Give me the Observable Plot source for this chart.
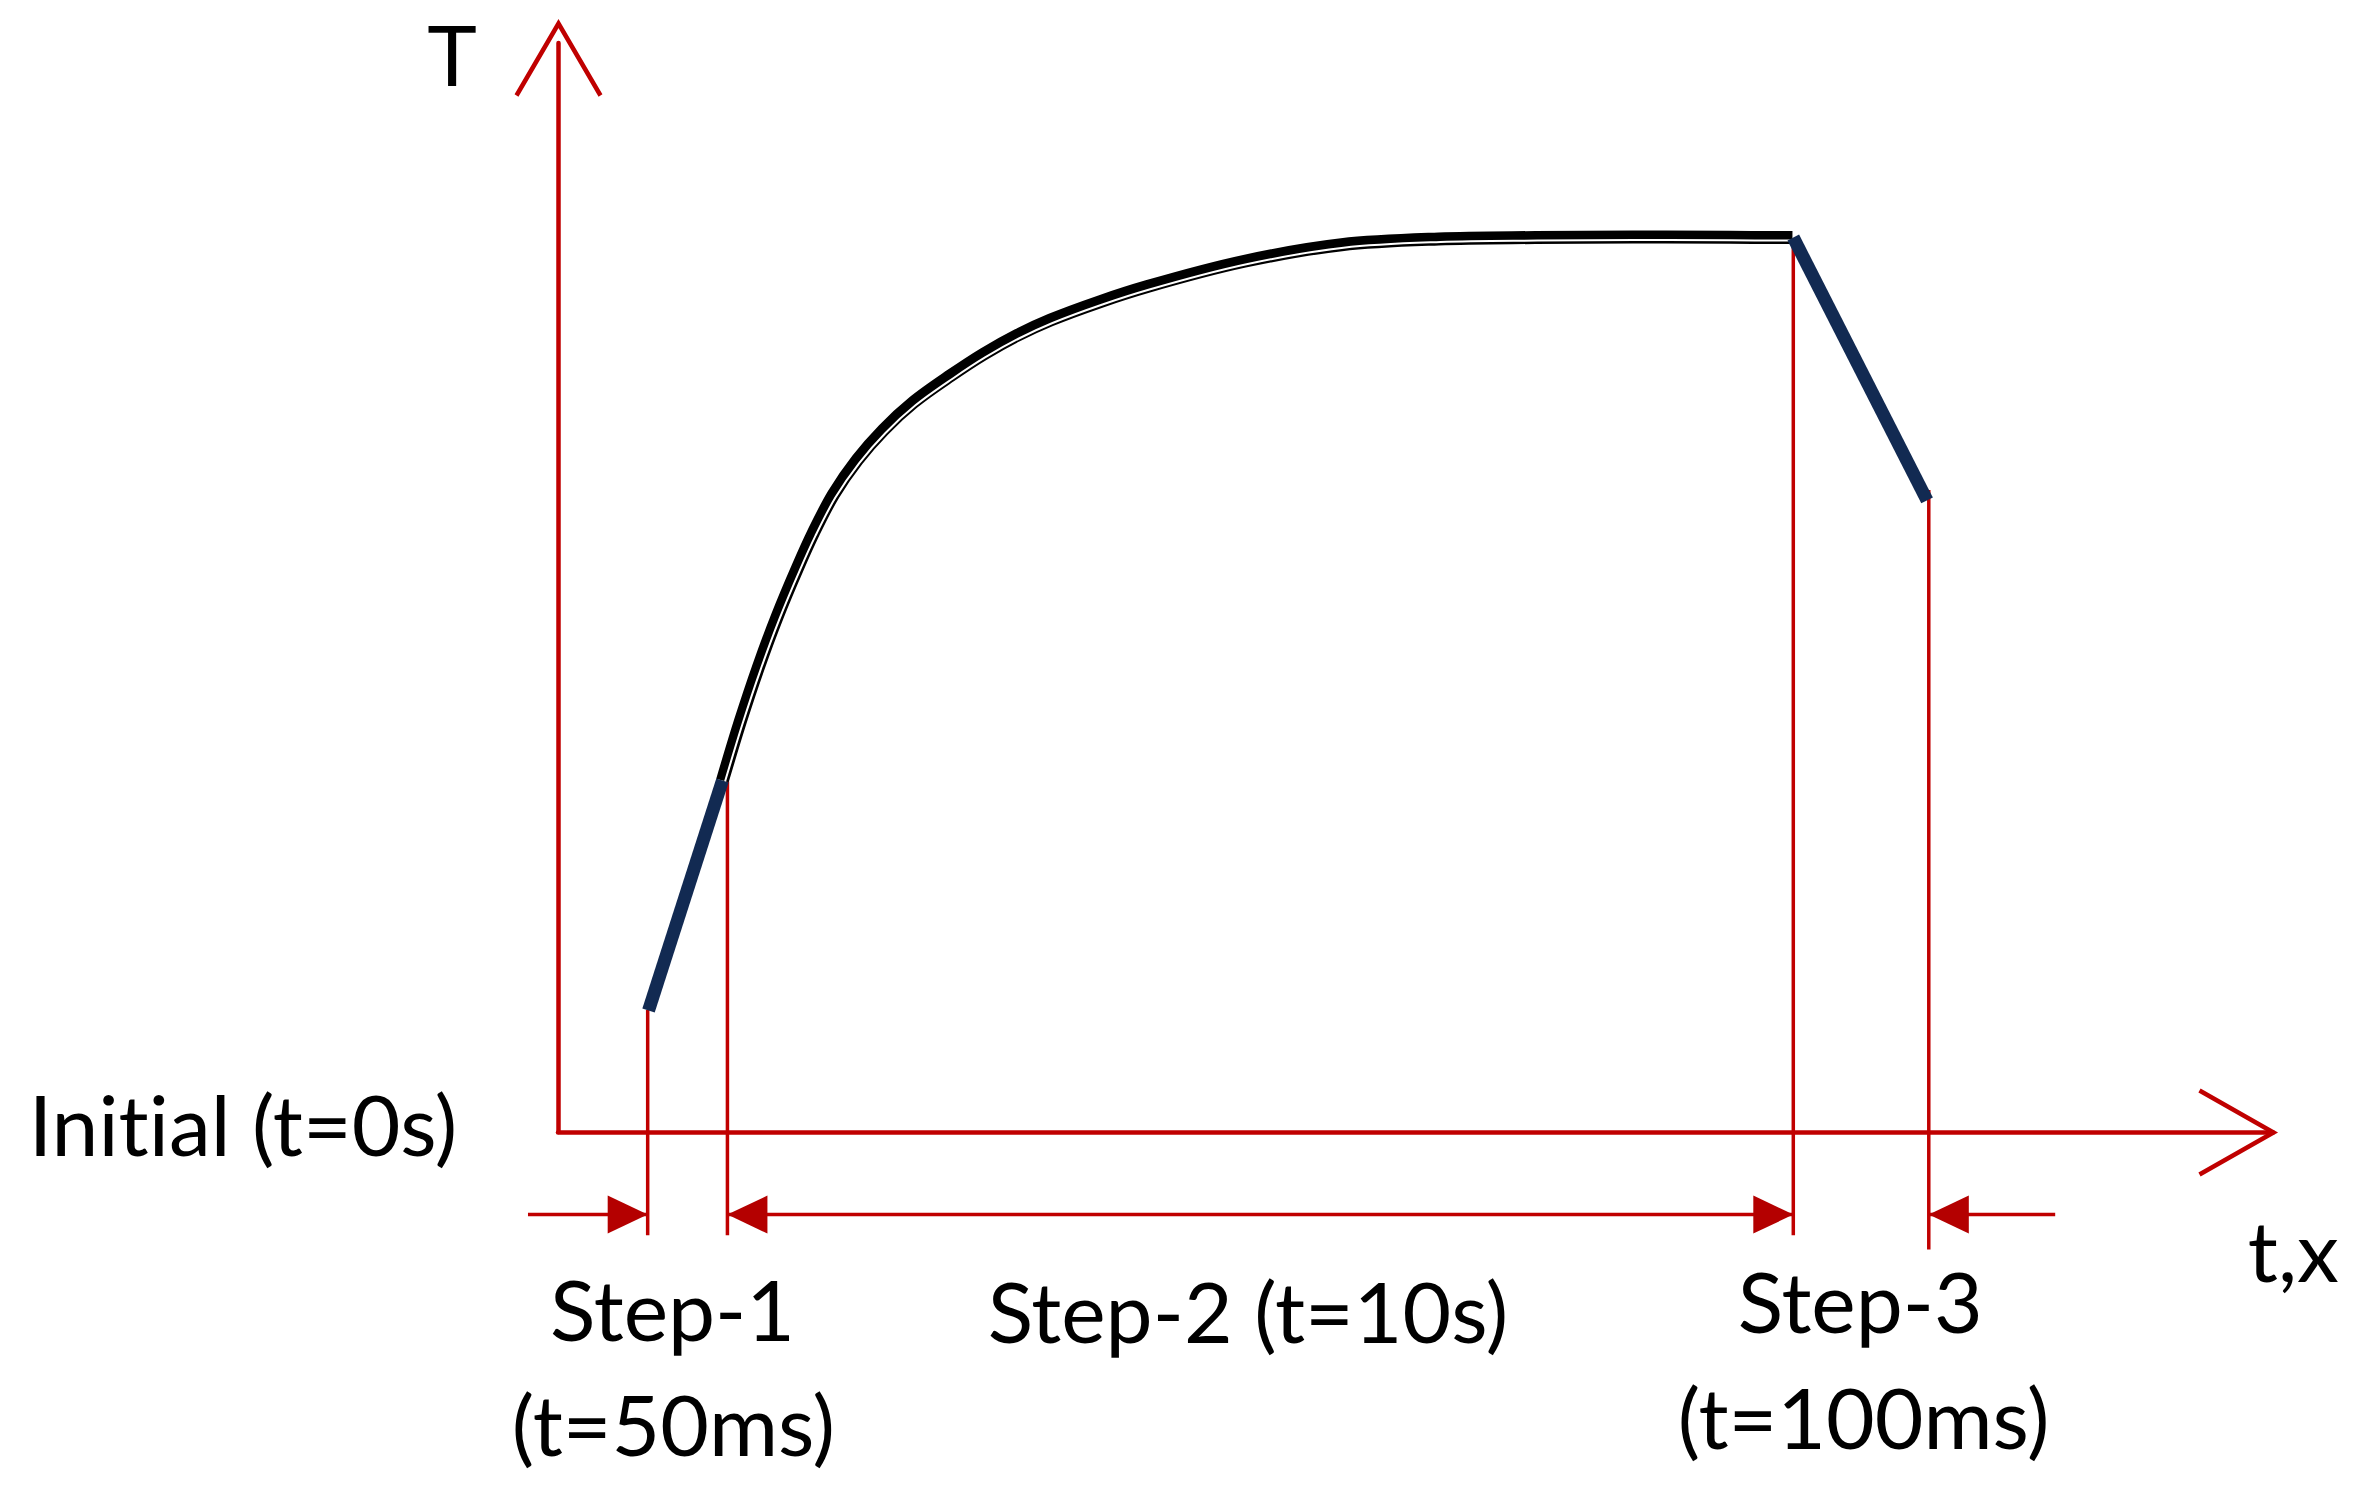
<!DOCTYPE html>
<html><head><meta charset="utf-8">
<script src="https://cdn.jsdelivr.net/npm/d3@7"></script>
<script src="https://cdn.jsdelivr.net/npm/@observablehq/plot@0.6"></script>
<style>
html,body{margin:0;padding:0;background:#fff;}
#chart svg{display:block;}
#chart svg text{font-variant-ligatures:none;font-feature-settings:"liga" 0,"clig" 0;}
</style>
</head><body><div id="chart"></div>
<script>
// Schematic temperature history (arbitrary units: t along x, T along y, origin at the axes corner)
const rampX = [5.25, 9.56];           // Step-1 (fast heating, blue)
const rampY = [11.0, 31.74];
const curveX = [9.56, 10.61, 11.66, 12.77, 13.94, 14.87, 16.03, 17.43, 18.95, 20.70, 22.86, 24.78, 26.76, 28.69, 31.60, 34.34, 40.00, 45.66, 51.31, 56.97, 62.62, 68.28, 71.95];
const curveY = [31.74, 37.10, 41.97, 46.59, 50.92, 54.09, 57.52, 60.66, 63.35, 65.84, 68.24, 70.18, 71.89, 73.26, 74.93, 76.28, 78.56, 80.05, 80.57, 80.70, 80.75, 80.72, 80.70];
const coolX = [72.0, 79.8];           // Step-3 (cooling, blue)
const coolY = [80.7, 57.0];
const stepBoundsX = [5.2, 9.85, 72.0, 79.9];
const stepBoundsTopY = [11.0, 31.6, 80.0, 57.9];
const stepBoundsBottomY = [-9.3, -9.3, -9.3, -10.6];
const dimY = -7.4;
const dimStartX = [-1.75, 9.85, 87.3];
const dimEndX = [5.2, 72.0, 79.9];
const headX = [5.2, 9.85, 72.0, 79.9];
const headRotate = [90, -90, 90, -90];
const stepLabels = ["Step-1", "(t=50ms)", "Step-2 (t=10s)", "Step-3", "(t=100ms)"];
const stepLabelX = [6.65, 6.7, 40.2, 75.9, 76.1];
const stepLabelY = [-18.8, -29.2, -19.0, -18.1, -28.5];
const axisLabels = ["T", "Initial (t=0s)", "t,x"];
const axisLabelX = [-6.2, -5.9, 98.5];
const axisLabelY = [94.4, -2.1, -13.5];
const xAxisEnd = 100, yAxisEnd = 100, yAxisLineEnd = 98.2;

const red = "#c00000";
const navy = "#122a52";
const fs = 84;

const pts = (X, Y) => X.map((x, i) => ({x, y: Y[i]}));
const curve = pts(curveX, curveY);

const filledHead = {draw(ctx, l, r) { ctx.moveTo(0, -l); ctx.lineTo(-r, 0); ctx.lineTo(r, 0); ctx.closePath(); }};
const openHead = {draw(ctx, l, r) { ctx.moveTo(-r, 0); ctx.lineTo(0, -l); ctx.lineTo(r, 0); }};

const bounds = stepBoundsX.map((x, i) => ({x, y1: stepBoundsTopY[i], y2: stepBoundsBottomY[i]}));
const dims = dimStartX.map((x1, i) => ({x1, x2: dimEndX[i], y: dimY}));
const heads = headX.map((x, i) => ({x, y: dimY, r: headRotate[i]}));
const labels = stepLabels.map((t, i) => ({t, x: stepLabelX[i], y: stepLabelY[i]}));
const ax = axisLabels.map((t, i) => ({t, x: axisLabelX[i], y: axisLabelY[i]}));

const chart = Plot.plot({
  width: 2358, height: 1491,
  marginTop: 0, marginRight: 0, marginBottom: 0, marginLeft: 0,
  x: {domain: [0, 100], range: [558, 2273], axis: null},
  y: {domain: [0, 100], range: [1132, 23], axis: null},
  style: {background: "#fff", overflow: "visible", fontFamily: "Lato, 'Open Sans', sans-serif"},
  marks: [
    // axes
    Plot.ruleX([0], {y1: 0, y2: yAxisLineEnd, stroke: red, strokeWidth: 4.5, strokeLinecap: "round"}),
    Plot.ruleY([0], {x1: 0, x2: xAxisEnd, stroke: red, strokeWidth: 4.5, strokeLinecap: "round"}),
    Plot.vector([{x: 0, y: yAxisEnd}], {x: "x", y: "y", rotate: 0, length: 72, r: 42, anchor: "end", shape: openHead, stroke: red, strokeWidth: 4.5, strokeLinecap: "butt", strokeLinejoin: "miter"}),
    Plot.vector([{x: xAxisEnd, y: 0}], {x: "x", y: "y", rotate: 90, length: 74, r: 42, anchor: "end", shape: openHead, stroke: red, strokeWidth: 4.5, strokeLinecap: "butt", strokeLinejoin: "miter"}),
    // step boundaries
    Plot.ruleX(bounds, {x: "x", y1: "y1", y2: "y2", stroke: red, strokeWidth: 3.5}),
    // dimension arrows
    Plot.ruleY(dims, {y: "y", x1: "x1", x2: "x2", stroke: red, strokeWidth: 3.5}),
    Plot.vector(heads, {x: "x", y: "y", rotate: "r", length: 40, r: 19, anchor: "end", shape: filledHead, fill: "#b40000", stroke: "none"}),
    // temperature curve
    Plot.line(curve, {x: "x", y: "y", curve: "catmull-rom", stroke: "#000", strokeWidth: 13, strokeLinecap: "butt"}),
    Plot.line(curve, {x: "x", y: "y", curve: "catmull-rom", stroke: "#fff", strokeWidth: 2, dx: 2, dy: 3, strokeLinecap: "butt"}),
    Plot.line(pts(rampX, rampY), {x: "x", y: "y", stroke: navy, strokeWidth: 13, strokeLinecap: "butt"}),
    Plot.line(pts(coolX, coolY), {x: "x", y: "y", stroke: navy, strokeWidth: 13, strokeLinecap: "butt"}),
    // labels
    Plot.text(labels, {x: "x", y: "y", text: "t", fontSize: fs, textAnchor: "middle", lineAnchor: "bottom", fill: "#000"}),
    Plot.text([ax[0]], {x: "x", y: "y", text: "t", fontSize: fs, textAnchor: "middle", lineAnchor: "bottom", fill: "#000"}),
    Plot.text([ax[1]], {x: "x", y: "y", text: "t", fontSize: fs, textAnchor: "end", lineAnchor: "bottom", fill: "#000"}),
    Plot.text([ax[2]], {x: "x", y: "y", text: "t", fontSize: fs, textAnchor: "start", lineAnchor: "bottom", fill: "#000"})
  ]
});
document.getElementById("chart").appendChild(chart);
</script>
</body></html>
